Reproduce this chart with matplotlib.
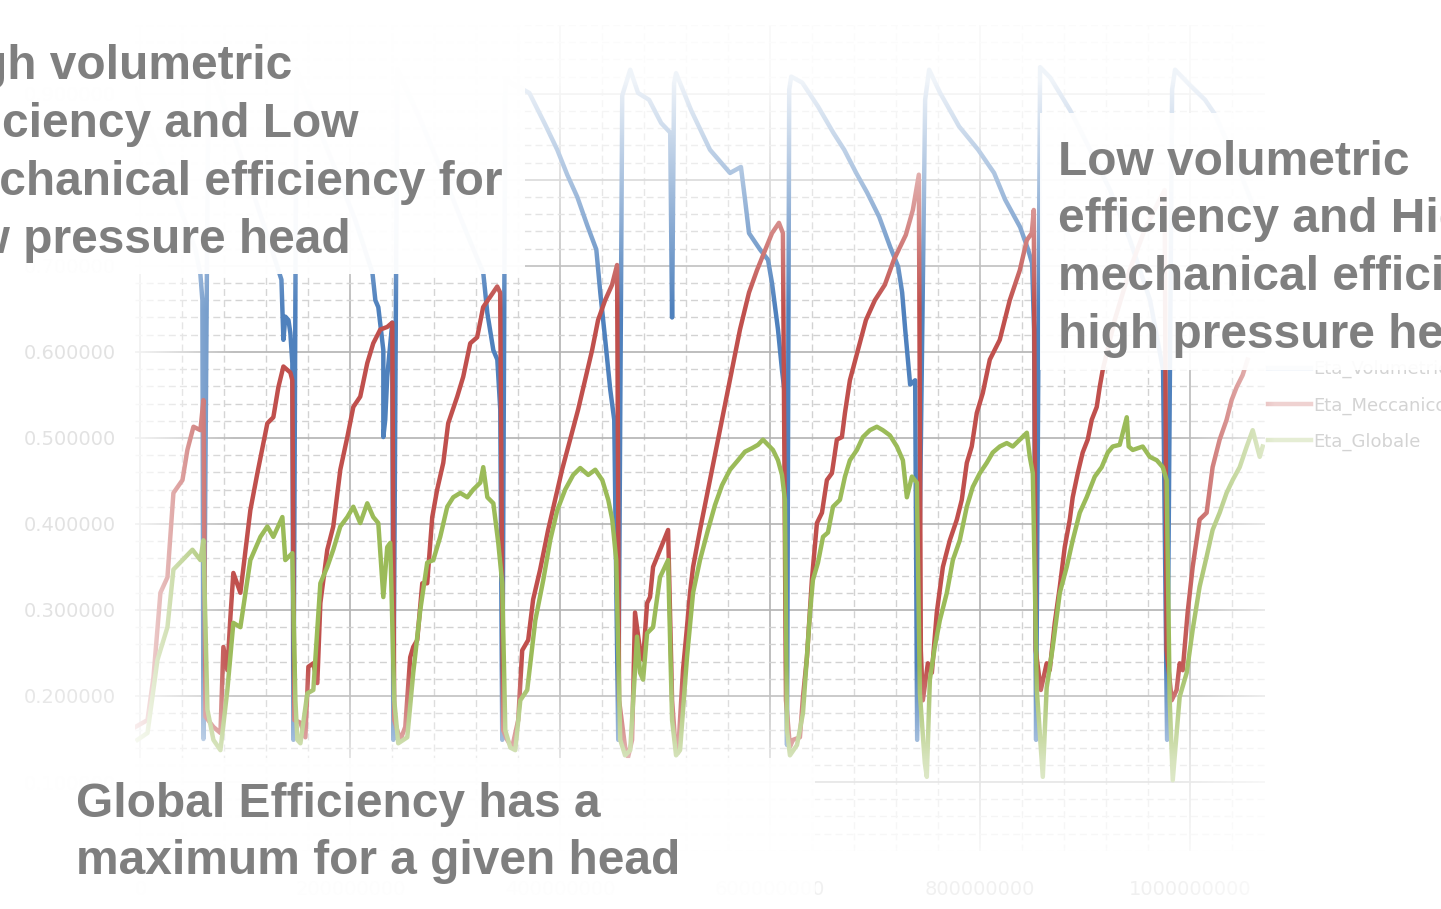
import numpy as np
import matplotlib.pyplot as plt
from matplotlib.patches import Rectangle
from matplotlib.ticker import MultipleLocator, FuncFormatter

# sample index (millions) and efficiencies
vol_x = [-4.8, 9.5, 23.8, 38.1, 52.4, 57.1, 59.0, 60.0,
         64.8, 81.0, 100.0, 119.0, 134.3, 136.2, 138.0, 141.0, 142.8, 144.7, 145.7,
         148.6, 166.7, 185.7, 204.7, 221.0, 223.8, 226.6, 231.4, 231.4, 233.2, 235.1, 239.9, 240.9,
         244.7, 266.6, 290.4, 309.5, 326.6, 330.5, 336.2, 340.0, 342.8, 344.7,
         347.6, 357.1, 370.5, 385.7, 397.1, 406.6, 416.2, 425.7, 434.3, 438.1, 442.8, 447.6, 451.4, 455.2,
         459.0, 466.6, 474.1, 484.6, 496.1, 504.7, 506.5,
         508.4, 510.3, 524.6, 542.6, 561.7, 572.1, 576.0, 579.8, 590.3, 597.9, 601.7, 607.4, 611.2, 614.0, 616.0,
         618.1, 620.0, 630.5, 645.7, 660.0, 670.5, 681.9, 692.4, 703.8, 714.3, 721.9, 725.7, 728.6, 733.3, 738.1, 740.0,
         747.6, 751.4, 761.9, 780.0, 798.1, 813.3, 823.8, 838.1, 845.7, 849.5, 851.4, 853.3,
         857.1, 866.7, 885.7, 904.8, 923.8, 942.8, 961.9, 974.3, 978.1,
         982.9, 985.7, 1000.0, 1014.3, 1023.8, 1042.9, 1061.9, 1069.5]
vol_y = [0.905, 0.858, 0.812, 0.766, 0.719, 0.690, 0.660, 0.150,
         0.940, 0.881, 0.812, 0.742, 0.684, 0.614, 0.641, 0.637, 0.622, 0.587, 0.149,
         0.928, 0.870, 0.812, 0.753, 0.692, 0.660, 0.652, 0.602, 0.501, 0.521, 0.571, 0.634, 0.149,
         0.928, 0.870, 0.800, 0.742, 0.692, 0.645, 0.602, 0.591, 0.533, 0.149,
         0.916, 0.910, 0.901, 0.864, 0.835, 0.806, 0.780, 0.747, 0.719, 0.669, 0.614, 0.556, 0.521, 0.149,
         0.898, 0.928, 0.901, 0.893, 0.866, 0.855, 0.640,
         0.912, 0.924, 0.881, 0.835, 0.808, 0.815, 0.777, 0.738, 0.719, 0.707, 0.680, 0.626, 0.579, 0.550, 0.143,
         0.905, 0.920, 0.913, 0.885, 0.855, 0.835, 0.808, 0.785, 0.757, 0.722, 0.699, 0.669, 0.626, 0.562, 0.567, 0.149,
         0.893, 0.928, 0.901, 0.862, 0.835, 0.808, 0.777, 0.745, 0.719, 0.703, 0.626, 0.149,
         0.931, 0.919, 0.881, 0.835, 0.788, 0.730, 0.660, 0.579, 0.149,
         0.905, 0.928, 0.910, 0.893, 0.876, 0.823, 0.765, 0.742]

mec_x = [-4.8, 6.7, 12.4, 19.0, 25.7, 31.4, 40.0, 44.7, 50.5, 57.1, 60.0, 61.9, 69.5, 76.2,
         79.0, 82.8, 85.7, 88.5, 95.2, 104.7, 111.4, 120.9, 126.6, 131.4, 136.2, 142.8, 144.7, 146.6, 152.4, 157.1,
         160.0, 164.7, 168.5, 171.4, 178.0, 183.7, 190.4, 197.1, 202.8, 209.4, 216.1, 221.8, 228.5, 235.1, 239.9,
         241.8, 244.7, 247.6, 252.3,
         257.0, 259.9, 263.7, 268.5, 273.2, 278.0, 282.7, 288.5, 293.2, 301.8, 307.5, 314.2, 320.8, 326.5, 333.2,
         339.9, 342.7, 345.6, 349.4, 354.1,
         359.9, 363.7, 369.4, 374.1, 380.8, 388.4, 395.1, 401.7, 409.4, 417.0, 423.6, 430.3, 436.0, 442.7, 449.3,
         454.1, 456.0, 461.7, 464.6, 468.4,
         471.2, 476.0, 478.9, 482.7, 485.5, 488.4, 495.0, 502.7, 506.5, 509.3, 512.2,
         516.9, 520.7, 523.6, 526.5, 533.1, 542.6, 552.2, 561.7, 571.2, 579.8, 587.4, 594.0, 601.7, 608.3, 612.1,
         615.0, 618.8, 621.7, 628.3,
         631.2, 635.0, 639.7, 644.5, 649.3, 654.0, 658.8, 663.5, 668.3, 671.2, 675.9, 683.5, 691.2, 699.7, 709.2,
         717.8, 729.2, 735.9, 741.6, 743.5, 745.4,
         750.2, 754.0, 758.7, 764.5, 771.1, 777.8, 782.5, 787.3, 792.0, 796.8, 802.5, 809.2, 818.7, 828.2, 837.8,
         844.5, 849.2, 851.1, 853.0, 857.8,
         863.4, 866.3, 871.1, 875.9, 880.6, 885.4, 888.2, 893.0, 897.7, 902.5, 906.3, 911.1, 913.9, 916.8, 928.2,
         942.5, 956.8, 971.0, 975.8, 977.7, 982.5, 987.2,
         990.1, 993.0, 997.7, 1002.5, 1009.1, 1015.8, 1021.5, 1028.2, 1034.8, 1039.6, 1044.4, 1050.1, 1054.8]
mec_y = [0.164, 0.172, 0.222, 0.320, 0.338, 0.436, 0.451, 0.486, 0.513, 0.509, 0.544, 0.176, 0.164, 0.157,
         0.257, 0.230, 0.292, 0.343, 0.320, 0.416, 0.459, 0.517, 0.524, 0.559, 0.583, 0.576, 0.567, 0.172, 0.169, 0.152,
         0.234, 0.238, 0.215, 0.308, 0.370, 0.397, 0.463, 0.501, 0.536, 0.548, 0.587, 0.610, 0.626, 0.629, 0.634,
         0.172, 0.160, 0.149, 0.164,
         0.245, 0.257, 0.265, 0.331, 0.331, 0.408, 0.440, 0.471, 0.517, 0.548, 0.571, 0.610, 0.617, 0.652, 0.664,
         0.676, 0.669, 0.160, 0.149, 0.140,
         0.172, 0.253, 0.265, 0.312, 0.347, 0.393, 0.428, 0.463, 0.498, 0.533, 0.567, 0.602, 0.637, 0.660, 0.678,
         0.701, 0.195, 0.141, 0.129, 0.149,
         0.297, 0.253, 0.242, 0.308, 0.315, 0.350, 0.370, 0.393, 0.195, 0.149, 0.134,
         0.230, 0.280, 0.320, 0.350, 0.393, 0.451, 0.509, 0.567, 0.626, 0.669, 0.695, 0.715, 0.738, 0.750, 0.738,
         0.195, 0.141, 0.149, 0.152,
         0.199, 0.245, 0.335, 0.401, 0.413, 0.451, 0.459, 0.498, 0.501, 0.529, 0.567, 0.602, 0.637, 0.660, 0.678,
         0.707, 0.736, 0.765, 0.806, 0.253, 0.195,
         0.238, 0.227, 0.297, 0.350, 0.381, 0.405, 0.428, 0.471, 0.490, 0.529, 0.552, 0.591, 0.614, 0.660, 0.695,
         0.730, 0.738, 0.765, 0.253, 0.207,
         0.238, 0.230, 0.285, 0.327, 0.373, 0.405, 0.431, 0.459, 0.483, 0.498, 0.521, 0.536, 0.559, 0.579, 0.637,
         0.695, 0.742, 0.777, 0.788, 0.253, 0.195, 0.207,
         0.238, 0.230, 0.297, 0.350, 0.405, 0.413, 0.466, 0.498, 0.521, 0.544, 0.559, 0.573, 0.591]

glob_x = [-2.9, 6.7, 16.2, 25.7, 31.4, 40.0, 49.5, 57.1, 60.0, 63.8, 69.5, 76.2,
          82.8, 88.5, 95.2, 104.7, 114.3, 120.9, 126.6, 135.2, 138.0, 144.7, 147.6, 149.5, 152.4,
          159.0, 164.7, 171.4, 178.0, 183.7, 190.4, 197.1, 202.8, 209.4, 216.1, 221.8, 226.6, 231.4, 235.1, 238.0,
          241.8, 245.6, 254.2,
          259.9, 266.6, 273.2, 279.0, 285.6, 292.3, 298.0, 304.7, 311.4, 317.1, 323.8, 326.6, 330.5, 336.2, 340.9,
          344.7, 347.6, 352.4, 357.1,
          361.9, 368.5, 376.2, 383.8, 390.4, 397.1, 404.7, 412.3, 419.0, 426.6, 433.3, 440.0, 445.7, 449.5, 453.3,
          457.1, 461.7, 466.6,
          473.1, 476.0, 478.9, 482.7, 488.4, 495.0, 502.7, 506.5, 510.3, 514.1,
          520.7, 526.5, 533.1, 540.7, 547.4, 554.1, 561.7, 569.3, 576.0, 582.6, 588.4, 593.1, 597.9, 602.6, 607.4,
          611.2, 614.0, 616.0, 618.8, 625.5,
          631.2, 637.9, 640.7, 645.5, 650.3, 655.0, 659.8, 666.4, 671.2, 675.9, 682.6, 688.3, 695.0, 701.6, 707.3,
          714.0, 720.7, 726.4, 730.2, 735.0, 739.7, 742.6, 747.3, 749.2,
          752.1, 756.8, 761.6, 768.3, 774.0, 780.6, 787.3, 793.0, 799.7, 806.3, 812.0, 818.7, 825.4, 831.1, 837.8,
          844.5, 847.3, 850.2, 854.0, 859.7,
          863.4, 869.2, 875.9, 882.5, 888.2, 894.9, 901.5, 909.2, 915.8, 921.6, 926.3, 933.0, 939.7, 941.5, 945.4,
          954.9, 961.6, 968.3, 974.0, 977.7, 980.6, 983.5,
          990.1, 996.8, 1002.5, 1009.1, 1015.8, 1021.5, 1028.2, 1034.8, 1040.6, 1047.3, 1054.0, 1059.7, 1066.4, 1069.2]
glob_y = [0.149, 0.157, 0.242, 0.280, 0.347, 0.358, 0.370, 0.358, 0.381, 0.184, 0.149, 0.137,
          0.207, 0.285, 0.280, 0.358, 0.385, 0.397, 0.385, 0.408, 0.358, 0.366, 0.195, 0.149, 0.145,
          0.203, 0.207, 0.331, 0.350, 0.370, 0.397, 0.408, 0.420, 0.401, 0.424, 0.408, 0.401, 0.315, 0.373, 0.378,
          0.195, 0.145, 0.152,
          0.227, 0.300, 0.355, 0.358, 0.385, 0.420, 0.431, 0.436, 0.431, 0.440, 0.448, 0.466, 0.431, 0.424, 0.378,
          0.331, 0.160, 0.140, 0.137,
          0.195, 0.207, 0.288, 0.335, 0.381, 0.416, 0.440, 0.457, 0.465, 0.457, 0.463, 0.451, 0.428, 0.405, 0.358,
          0.149, 0.131, 0.137,
          0.269, 0.227, 0.219, 0.273, 0.280, 0.338, 0.358, 0.172, 0.131, 0.137,
          0.245, 0.320, 0.358, 0.393, 0.422, 0.445, 0.463, 0.474, 0.484, 0.488, 0.492, 0.498, 0.492, 0.486, 0.474,
          0.457, 0.428, 0.160, 0.131, 0.143,
          0.180, 0.297, 0.335, 0.355, 0.385, 0.390, 0.420, 0.428, 0.455, 0.474, 0.486, 0.501, 0.509, 0.513, 0.509,
          0.503, 0.490, 0.474, 0.431, 0.455, 0.448, 0.203, 0.122, 0.106,
          0.219, 0.257, 0.288, 0.320, 0.358, 0.381, 0.420, 0.443, 0.459, 0.471, 0.483, 0.490, 0.494, 0.490, 0.498,
          0.506, 0.478, 0.459, 0.207, 0.106,
          0.210, 0.257, 0.320, 0.350, 0.381, 0.413, 0.431, 0.455, 0.466, 0.483, 0.490, 0.492, 0.524, 0.490, 0.486,
          0.490, 0.478, 0.474, 0.466, 0.451, 0.195, 0.102,
          0.199, 0.227, 0.277, 0.327, 0.362, 0.393, 0.413, 0.436, 0.451, 0.466, 0.490, 0.509, 0.478, 0.490]

labels = ["Eta_Volumetrico", "Eta_Meccanico", "Eta_Globale"]
colors = ["#4f81bd", "#c0504d", "#9bbb59"]

left_note = ["High volumetric", "efficiency and Low", "mechanical efficiency for", "low pressure head"]
right_note = ["Low volumetric", "efficiency and High", "mechanical efficiency for", "high pressure head"]
bottom_note = ["Global Efficiency has a", "maximum for a given head"]

W, H = 1441, 909
fig = plt.figure(figsize=(W / 100, H / 100), dpi=100)
fig.patch.set_facecolor("white")

ax = fig.add_axes([135 / W, 1 - 851 / H, 1130 / W, 826 / H])
ax.set_xlim(-5.2, 1071.4)
ax.set_ylim(0.0198, 0.980)
for s in ax.spines.values():
    s.set_visible(False)
ax.xaxis.set_major_locator(MultipleLocator(200))
ax.xaxis.set_minor_locator(MultipleLocator(40))
ax.yaxis.set_major_locator(MultipleLocator(0.1))
ax.yaxis.set_minor_locator(MultipleLocator(0.02))
ax.grid(which="major", color="#b3b3b3", lw=1.2)
ax.grid(which="minor", color="#d2d2d2", lw=1.0, ls=(0, (5, 3)))
ax.set_axisbelow(True)
ax.tick_params(which="both", length=0)
ax.tick_params(axis="y", labelsize=14, labelcolor="#e2e2e2", pad=14)
ax.tick_params(axis="x", labelsize=14, labelcolor="#777777", pad=21)
ax.yaxis.set_major_formatter(FuncFormatter(lambda v, p: f"{v:.6f}"))
ax.xaxis.set_major_formatter(FuncFormatter(lambda v, p: f"{int(round(v * 1e6))}"))

ax.plot(vol_x, vol_y, color=colors[0], lw=3.2, label=labels[0])
ax.plot(mec_x, mec_y, color=colors[1], lw=3.2, label=labels[1])
ax.plot(glob_x, glob_y, color=colors[2], lw=3.2, label=labels[2])

ax.legend(loc="upper left", bbox_to_anchor=(1268 / W, 1 - 360 / H), bbox_transform=fig.transFigure,
          frameon=False, fontsize=13, handlelength=2.4, handletextpad=0.1, labelspacing=1.0,
          borderpad=0, borderaxespad=0, labelcolor="#555555")

# white wash that fades the chart towards the edges
X, Y = np.meshgrid(np.arange(W) + 0.5, np.arange(H) + 0.5)
a_l = np.where(X >= 125, 0.85 * np.clip((235 - X) / 100, 0, 1), 0)
a_t = 0.92 * np.clip((310 - Y) / 230, 0, 1)
a_b = np.where(Y < 760, 0.6 * np.clip((Y - 665) / 95, 0, 1), 0.6 + 0.3 * np.clip((Y - 760) / 90, 0, 1))
a_r = 0.75 * np.clip((X - 1175) / 100, 0, 1)
wash = np.ones((H, W, 4))
wash[..., 3] = 1 - (1 - a_l) * (1 - a_t) * (1 - a_b) * (1 - a_r)

ov = fig.add_axes([0, 0, 1, 1], zorder=2)
ov.axis("off")
ov.imshow(wash, extent=(0, W, H, 0), aspect="auto", interpolation="bilinear")
ov.set_xlim(0, W)
ov.set_ylim(H, 0)

ov.add_patch(Rectangle((0, 0), 525, 274, fc="white", ec="none", alpha=0.96))
ov.add_patch(Rectangle((1040, 113), 401, 257, fc="white", ec="none", alpha=0.93))
ov.add_patch(Rectangle((0, 758), 815, 151, fc="white", ec="none", alpha=0.92))

txt = dict(fontsize=34.5, fontweight="bold", family="Liberation Sans", color="#7f7f7f",
           va="baseline", ha="left", clip_on=False)
for i, s in enumerate(left_note):
    ov.text(-70, 79 + 58 * i, s, **txt)
for i, s in enumerate(right_note):
    ov.text(1058, 175 + 57.5 * i, s, **txt)
for i, s in enumerate(bottom_note):
    ov.text(76, 817 + 57 * i, s, **txt)

fig.savefig("out.png", dpi=100, facecolor="white")
